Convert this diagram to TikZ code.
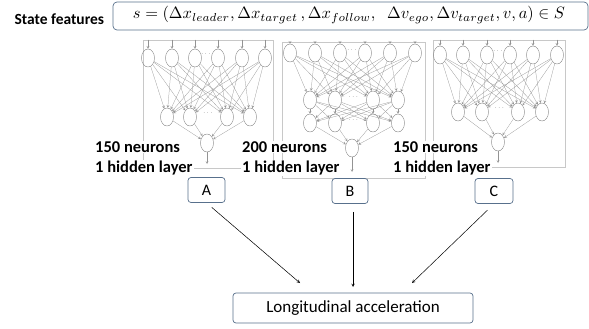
\documentclass[tikz,border=0pt]{standalone}
\usepackage{amsmath}
\usepackage{amssymb}
\usepackage{fontspec}
\setmainfont{Carlito}
\usepackage{tikz}
\usetikzlibrary{shapes.geometric, arrows, positioning}

\definecolor{boxblue}{RGB}{88,112,140}
\definecolor{panelgray}{RGB}{200,200,200}

\begin{document}
\begin{tikzpicture}[x=1pt, y=-1pt]
        \tikzstyle{panel} = [rectangle, draw=panelgray, line width=0.6pt, inner sep=0pt]
        \tikzstyle{neuron} = [ellipse, draw=gray, line width=0.4pt, minimum width=13pt, minimum height=18pt, inner sep=0pt]
        \tikzstyle{link} = [->, >=stealth, draw=gray!85, line width=0.25pt]
        \tikzstyle{label} = [font=\fontsize{16.5}{19}\selectfont\bfseries, fill=white, inner sep=1pt, anchor=west]
        \tikzstyle{model} = [rectangle, rounded corners=3pt, draw=boxblue, line width=0.7pt, fill=white, minimum height=25pt, font=\fontsize{16}{18}\selectfont]
        \tikzstyle{arrow} = [->, >=stealth, line width=0.5pt]

        \useasboundingbox (0,0) rectangle (589,329);

        % state features
        \node (state) [rectangle, rounded corners=4pt, draw=boxblue, line width=0.7pt, minimum width=475pt, minimum height=28pt] at (350.5,16) {};
        \node (formula) [inner sep=0pt] at (349,15) {\resizebox{432pt}{!}{$s=\left(\Delta x_{leader},\Delta x_{target}\,,\Delta x_{follow},\;\;\Delta v_{ego},\Delta v_{target},v,a\right)\in S$}};
        \node (statelbl) [left=5pt of state.west, yshift=-3pt, font=\fontsize{15.5}{18}\selectfont\bfseries] {State features};

        % panels
        \node (panA) [panel, minimum width=130pt, minimum height=128pt] at (208,104) {};
        \node (panB) [panel, minimum width=143pt, minimum height=136pt] at (353.5,110) {};
        \node (panC) [panel, minimum width=132pt, minimum height=127pt] at (499,103.5) {};

        % network A
        \foreach \x [count=\i] in {148,172,195,218,242,265}
            \node (ai\i) [neuron] at (\x,58) {};
        \foreach \x [count=\i] in {167,190,227,250}
            \node (ah\i) [neuron] at (\x,117) {};
        \node (ao) [neuron] at (207,143) {};
        \node (adi) [font=\tiny] at (206.5,54) {$\cdots$};
        \node (adh) [font=\tiny] at (208.5,113) {$\cdots$};
        \coordinate (aout) at (207,164);
        \foreach \i in {1,...,6} {
            \draw [link] (ai\i.north |- panA.north) -- (ai\i);
            \foreach \j in {1,...,4}
                \draw [link] (ai\i) -- (ah\j);
        }
        \foreach \j in {1,...,4}
            \draw [link] (ah\j) -- (ao);
        \draw [link] (ao) -- (aout);

        % network B
        \foreach \x [count=\i] in {290,315,340,365,390,415}
            \node (bi\i) [neuron] at (\x,53) {};
        \foreach \x [count=\i] in {310,335,373,398} {
            \node (bh\i) [neuron] at (\x,100) {};
            \node (bg\i) [neuron] at (\x,123) {};
        }
        \node (bo) [neuron] at (352,148) {};
        \node (bdi) [font=\tiny] at (352.5,50) {$\cdots$};
        \node (bdh) [font=\tiny] at (354,97) {$\cdots$};
        \node (bdg) [font=\tiny] at (354,120) {$\cdots$};
        \coordinate (bout) at (352,172);
        \foreach \i in {1,...,6} {
            \draw [link] (bi\i.north |- panB.north) -- (bi\i);
            \foreach \j in {1,...,4}
                \draw [link] (bi\i) -- (bh\j);
        }
        \foreach \i in {1,...,4} {
            \foreach \j in {1,...,4}
                \draw [link] (bh\i) -- (bg\j);
            \draw [link] (bg\i) -- (bo);
        }
        \draw [link] (bo) -- (bout);

        % network C
        \foreach \x [count=\i] in {440,463,487,510,533,557}
            \node (ci\i) [neuron] at (\x,55) {};
        \foreach \x [count=\i] in {458,482,518,542}
            \node (ch\i) [neuron] at (\x,112) {};
        \node (co) [neuron] at (498,142) {};
        \node (cdi) [font=\tiny] at (498.5,51) {$\cdots$};
        \node (cdh) [font=\tiny] at (500,108) {$\cdots$};
        \coordinate (cout) at (498,163);
        \foreach \i in {1,...,6} {
            \draw [link] (ci\i.north |- panC.north) -- (ci\i);
            \foreach \j in {1,...,4}
                \draw [link] (ci\i) -- (ch\j);
        }
        \foreach \j in {1,...,4}
            \draw [link] (ch\j) -- (co);
        \draw [link] (co) -- (cout);

        % labels
        \node (neuA) [label] at (94,147) {150 neurons};
        \node (layA) [label] at (94,168) {1 hidden layer};
        \node (neuB) [label] at (241,147) {200 neurons};
        \node (layB) [label] at (241,168) {1 hidden layer};
        \node (neuC) [label] at (392,147) {150 neurons};
        \node (layC) [label] at (392,168) {1 hidden layer};

        % models and output
        \node (A) [model, minimum width=37pt] at (206.5,190) {A};
        \node (B) [model, minimum width=36pt] at (350,191) {B};
        \node (C) [model, minimum width=38pt] at (494,191) {C};
        \node (long) [model, minimum width=240pt, minimum height=30pt, font=\fontsize{17}{20}\selectfont] at (353,308) {Longitudinal acceleration};

        \coordinate (tipA) at (300,283);
        \coordinate (tipB) at (353,287);
        \coordinate (tipC) at (412,283);
        \draw [arrow, shorten <=7pt] (A.south) -- (tipA);
        \draw [arrow, shorten <=8pt] (B.south -| tipB) -- (tipB);
        \draw [arrow, shorten <=9pt] (C.south) -- (tipC);
    \end{tikzpicture}
\end{document}
